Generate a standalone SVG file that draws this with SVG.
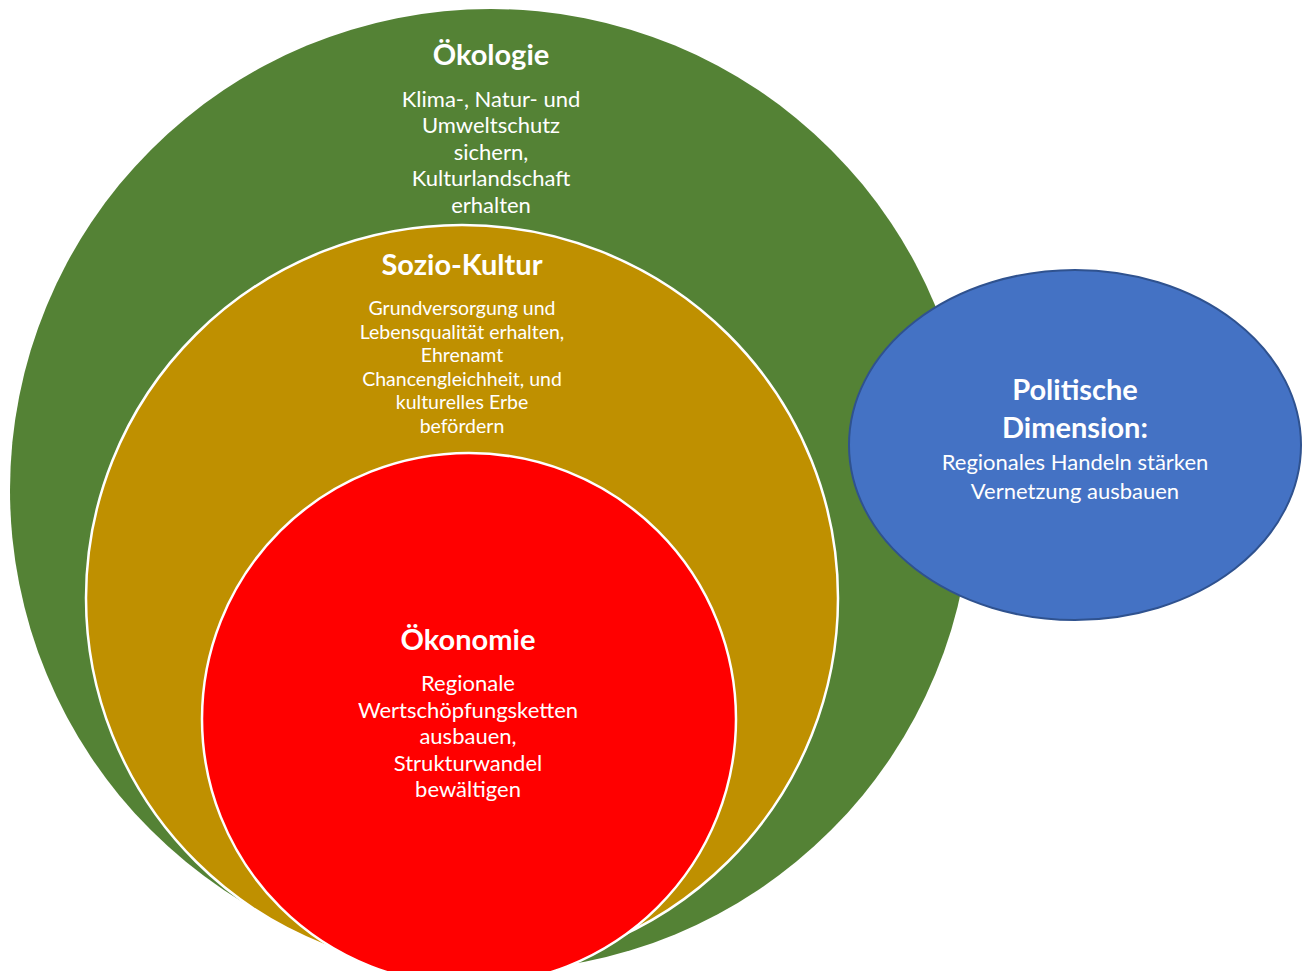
<svg xmlns="http://www.w3.org/2000/svg" width="1308" height="971" viewBox="0 0 1308 971">
<style>
text{font-family:Lato,"Open Sans","Liberation Sans",sans-serif;fill:#fff;text-anchor:middle}
.t{font-weight:bold;font-size:29px}
.b{font-size:22px}
.s{font-size:19.5px}
</style>
<rect width="1308" height="971" fill="#fff"/>
<g id="oekologie">
<circle cx="491" cy="490" r="481" fill="#548235"/>
<text class="t" x="491" y="65">Ökologie</text>
<text class="b" x="491" y="107">Klima-, Natur- und</text>
<text class="b" x="491" y="133">Umweltschutz</text>
<text class="b" x="491" y="160">sichern,</text>
<text class="b" x="491" y="186">Kulturlandschaft</text>
<text class="b" x="491" y="213">erhalten</text>
</g>
<g id="soziokultur">
<ellipse cx="462" cy="598" rx="376" ry="373" fill="#BF9000" stroke="#fff" stroke-width="2.5"/>
<text class="t" x="462" y="275">Sozio-Kultur</text>
<text class="s" x="462" y="315">Grundversorgung und</text>
<text class="s" x="462" y="339">Lebensqualität erhalten,</text>
<text class="s" x="462" y="362">Ehrenamt</text>
<text class="s" x="462" y="386">Chancengleichheit, und</text>
<text class="s" x="462" y="409">kulturelles Erbe</text>
<text class="s" x="462" y="433">befördern</text>
</g>
<g id="oekonomie">
<ellipse cx="469" cy="719" rx="267" ry="266" fill="#FF0000" stroke="#fff" stroke-width="2.5"/>
<text class="t" x="468" y="650">Ökonomie</text>
<text class="b" x="468" y="691">Regionale</text>
<text class="b" x="468" y="718">Wertschöpfungsketten</text>
<text class="b" x="468" y="744">ausbauen,</text>
<text class="b" x="468" y="771">Strukturwandel</text>
<text class="b" x="468" y="797">bewältigen</text>
</g>
<g id="politische">
<ellipse cx="1075" cy="445" rx="226" ry="175" fill="#4472C4" stroke="#2F528F" stroke-width="2"/>
<text class="t" x="1075" y="400">Politische</text>
<text class="t" x="1075" y="438">Dimension:</text>
<text class="b" x="1075" y="470">Regionales Handeln stärken</text>
<text class="b" x="1075" y="499">Vernetzung ausbauen</text>
</g>
<g id="connectors"/>
</svg>
